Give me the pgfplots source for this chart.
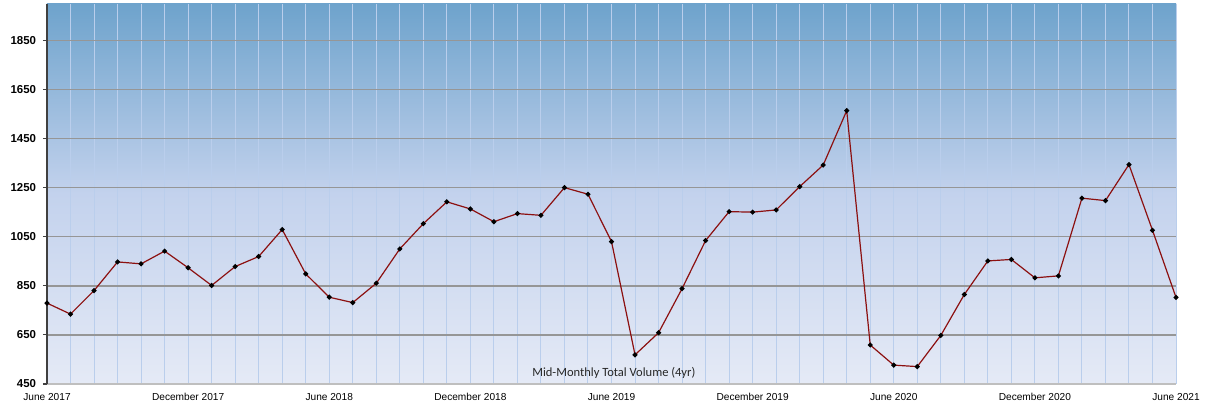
\documentclass[border=0pt]{standalone}
\usepackage{pgfplots}
\pgfplotsset{compat=1.18}
\usepackage{fontspec}
\setmainfont{Liberation Sans}
\newfontfamily\calibri{Carlito}
\definecolor{bgtop}{RGB}{110,163,204}
\definecolor{bgmid}{RGB}{195,210,237}
\definecolor{bgbot}{RGB}{229,234,246}
\definecolor{vgrid}{RGB}{186,206,236}
\definecolor{hgrid}{RGB}{150,150,150}
\definecolor{linered}{RGB}{140,16,16}
\pgfplotstableread{
x y
0 780
1 735
2 831
3 948
4 940
5 992
6 924
7 852
8 929
9 970
10 1080
11 899
12 804
13 782
14 861
15 1001
16 1104
17 1193
18 1164
19 1112
20 1145
21 1138
22 1251
23 1224
24 1031
25 569
26 659
27 839
28 1035
29 1153
30 1151
31 1160
32 1255
33 1343
34 1565
35 609
36 527
37 521
38 648
39 815
40 952
41 958
42 883
43 891
44 1208
45 1198
46 1345
47 1077
48 803
}\datatable
\begin{document}
\begin{tikzpicture}
\path[use as bounding box] (-35.25pt,-13.5pt) rectangle (868.5pt,288pt);
\begin{axis}[
  at={(0,0)}, anchor=south west,
  scale only axis, width=846.75pt, height=285pt,
  xmin=0, xmax=48, ymin=450, ymax=2000,
  clip=false,
  axis background/.style={shade, top color=bgtop, bottom color=bgbot, middle color=bgmid},
  axis lines*=left,
  y axis line style={draw=black!75, line width=1pt},
  x axis line style={draw=black!25, line width=1pt},
  ytick={450,650,...,1850},
  xtick={0,6,...,48},
  xticklabels={June 2017,December 2017,June 2018,December 2018,June 2019,December 2019,June 2020,December 2020,June 2021},
  minor xtick={0,1,...,48},
  xminorgrids, ymajorgrids,
  minor grid style={draw=vgrid, line width=0.75pt},
  major grid style={draw=hgrid, line width=0.9pt},
  tick align=outside,
  major tick length=3pt,
  minor tick length=0pt,
  xtick style={draw=none},
  ytick style={draw=black!75, line width=0.8pt},
  /pgf/number format/1000 sep={},
  yticklabel style={font=\bfseries\fontsize{8.6}{9}\selectfont, /pgf/number format/assume math mode=true, inner sep=0pt, xshift=-5pt},
  xticklabel style={font=\fontsize{7.6}{8}\selectfont, inner sep=0pt, yshift=-3.5pt},
]
\addplot[linered, line width=0.9pt, mark=*, mark size=1.4pt, mark options={fill=black, draw=black}] table[x=x,y=y] {\datatable};
\node[font=\calibri\fontsize{9.4}{11}\selectfont, text=black!85] at (axis cs:24.1,494) {Mid-Monthly Total Volume (4yr)};
\end{axis}
\end{tikzpicture}
\end{document}
